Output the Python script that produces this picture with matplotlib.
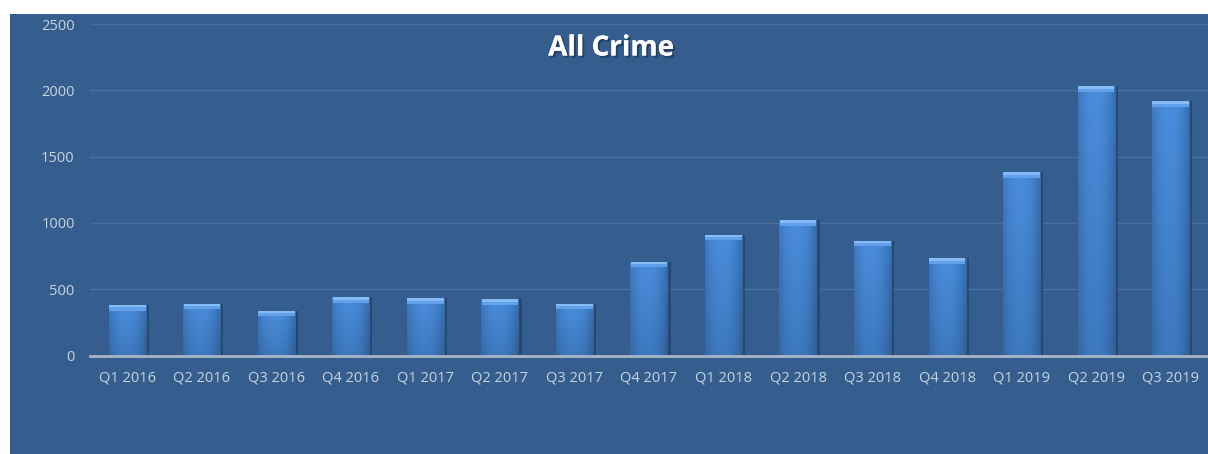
import matplotlib
matplotlib.use("Agg")
import matplotlib.pyplot as plt
import matplotlib.patches as mpatches
import matplotlib.patheffects as pe
import numpy as np

categories = ["Q1 2016", "Q2 2016", "Q3 2016", "Q4 2016", "Q1 2017", "Q2 2017", "Q3 2017",
              "Q4 2017", "Q1 2018", "Q2 2018", "Q3 2018", "Q4 2018", "Q1 2019", "Q2 2019", "Q3 2019"]
values = [381, 391, 338, 440, 432, 424, 391, 708, 912, 1021, 867, 734, 1381, 2030, 1917]
y_ticks = [0, 500, 1000, 1500, 2000, 2500]
title = "All Crime"

BG = "#355E8F"
TXT = "#C9D3DF"

W, H = 1208, 454
fig = plt.figure(figsize=(W / 100, H / 100), dpi=100, facecolor="white")
fig.patches.append(mpatches.Rectangle((10 / W, 0), 1, 1 - 14 / H, transform=fig.transFigure,
                                      facecolor=BG, edgecolor="none", zorder=-5))

ax = fig.add_axes([90 / W, 1 - 355.5 / H, (1208 - 90) / W, (355.5 - 24) / H])
ax.set_facecolor("none")
x = np.arange(len(categories))

for s in ["top", "right", "left"]:
    ax.spines[s].set_visible(False)
ax.spines["bottom"].set_color("#A9B6C6")
ax.spines["bottom"].set_linewidth(2)
ax.spines["bottom"].set_zorder(5)

ax.set_yticks(y_ticks)
ax.set_yticklabels([str(v) for v in y_ticks])
ax.set_xticks(x)
ax.set_xticklabels(categories)
ax.tick_params(axis="both", length=0, colors=TXT, labelsize=10.5)
ax.tick_params(axis="x", pad=11)
ax.tick_params(axis="y", pad=11)
for lab in ax.get_xticklabels() + ax.get_yticklabels():
    lab.set_fontfamily("Open Sans")
ax.yaxis.grid(True, color="#4B6F9A", linewidth=1)
ax.set_axisbelow(True)

bw = 0.5
# shadow
ax.bar(x + 0.04, values, width=bw, color="#1C3656", alpha=0.55, zorder=2)
bars = ax.bar(x, values, width=bw, color="#3F7DC8", edgecolor="#27497A", linewidth=0.8, zorder=3)

gx = np.linspace(0, 1, 64)
prof = 1 - 1.1 * np.abs(gx - 0.45) ** 2.2
gy = np.linspace(1.0, 0.82, 64)[:, None]
img = prof[None, :] * gy
cmap = matplotlib.colors.LinearSegmentedColormap.from_list("b", ["#24507F", "#4A8DDD"])
for b, v in zip(bars, values):
    im = ax.imshow(img, extent=(b.get_x(), b.get_x() + bw, 0, v), aspect="auto",
                   cmap=cmap, vmin=0.45, vmax=1, zorder=3.5, interpolation="bicubic")
    im.set_clip_path(b)
bev = 42
ax.bar(x, [bev] * len(values), width=bw * 0.98, bottom=np.array(values) - bev,
       color="#62A0EA", zorder=4, linewidth=0)
ax.bar(x, [bev * 0.45] * len(values), width=bw * 0.98, bottom=np.array(values) - bev * 0.45,
       color="#86BCF6", zorder=4.1, linewidth=0)
ax.set_xlim(-0.5, len(categories) - 0.5)
ax.set_ylim(0, 2500)

fig.text(611 / W, 1 - 48 / H, title, ha="center", va="center", color="white",
         fontsize=20, fontweight="bold", fontfamily="Open Sans",
         path_effects=[pe.withSimplePatchShadow(offset=(1.5, -1.5), shadow_rgbFace="#1A2E48", alpha=0.6), pe.Normal()])

fig.savefig("out.png", dpi=100, facecolor="white")
